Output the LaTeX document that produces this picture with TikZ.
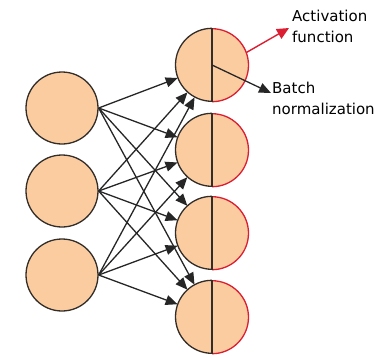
\documentclass[tikz,border=0pt]{standalone}
\usepackage{fontspec}
\setmainfont{DejaVu Sans}
\usetikzlibrary{arrows.meta}
\definecolor{peach}{RGB}{251,204,160}
\definecolor{edge}{RGB}{50,45,40}
\definecolor{redline}{RGB}{220,30,50}
\begin{document}
\begin{tikzpicture}[x=1pt,y=1pt,
  inneuron/.style={circle,draw=edge,line width=1.3pt,fill=peach,minimum size=72pt,inner sep=0pt},
  outneuron/.style={circle,fill=peach,minimum size=73pt,inner sep=0pt},
  conn/.style={line width=1.3pt,draw=black!85,-{Triangle[length=12pt,width=10pt]}},
  lbl/.style={font=\fontsize{15}{21}\selectfont,align=left,inner sep=0pt}]
\useasboundingbox (0,0) rectangle (378,-357);
% input neurons
\node[inneuron] (L1) at (62,-108) {};
\node[inneuron] (L2) at (62,-191) {};
\node[inneuron] (L3) at (62,-275) {};
% output neurons
\foreach \i/\y in {1/-65,2/-150,3/-233,4/-317}{
  \node[outneuron] (R\i) at (212,\y) {};
  \draw[edge,line width=1.3pt] (R\i.north) arc[start angle=90,end angle=270,radius=36.5pt];
  \draw[redline,line width=1.3pt] (R\i.south) arc[start angle=-90,end angle=90,radius=36.5pt];
  \draw[edge,line width=1.3pt] (R\i.north) -- (R\i.south);
}
% connections
\foreach \a in {1,2,3}{
  \foreach \b in {1,2,3,4}{
    \draw[conn] (L\a.east) -- (R\b);
  }
}
% annotations
\coordinate (actip) at (289,-28);
\coordinate (bntip) at (271,-93);
\draw[redline,line width=1.4pt,-{Triangle[length=12pt,width=11pt]}] (R1.20) -- (actip);
\draw[conn] (R1.center) -- (bntip);
\node[lbl,anchor=north west] (act) at (292,-10) {Activation\\function};
\node[lbl,anchor=north west] (bn) at (272,-82) {Batch\\normalization};
\end{tikzpicture}
\end{document}
